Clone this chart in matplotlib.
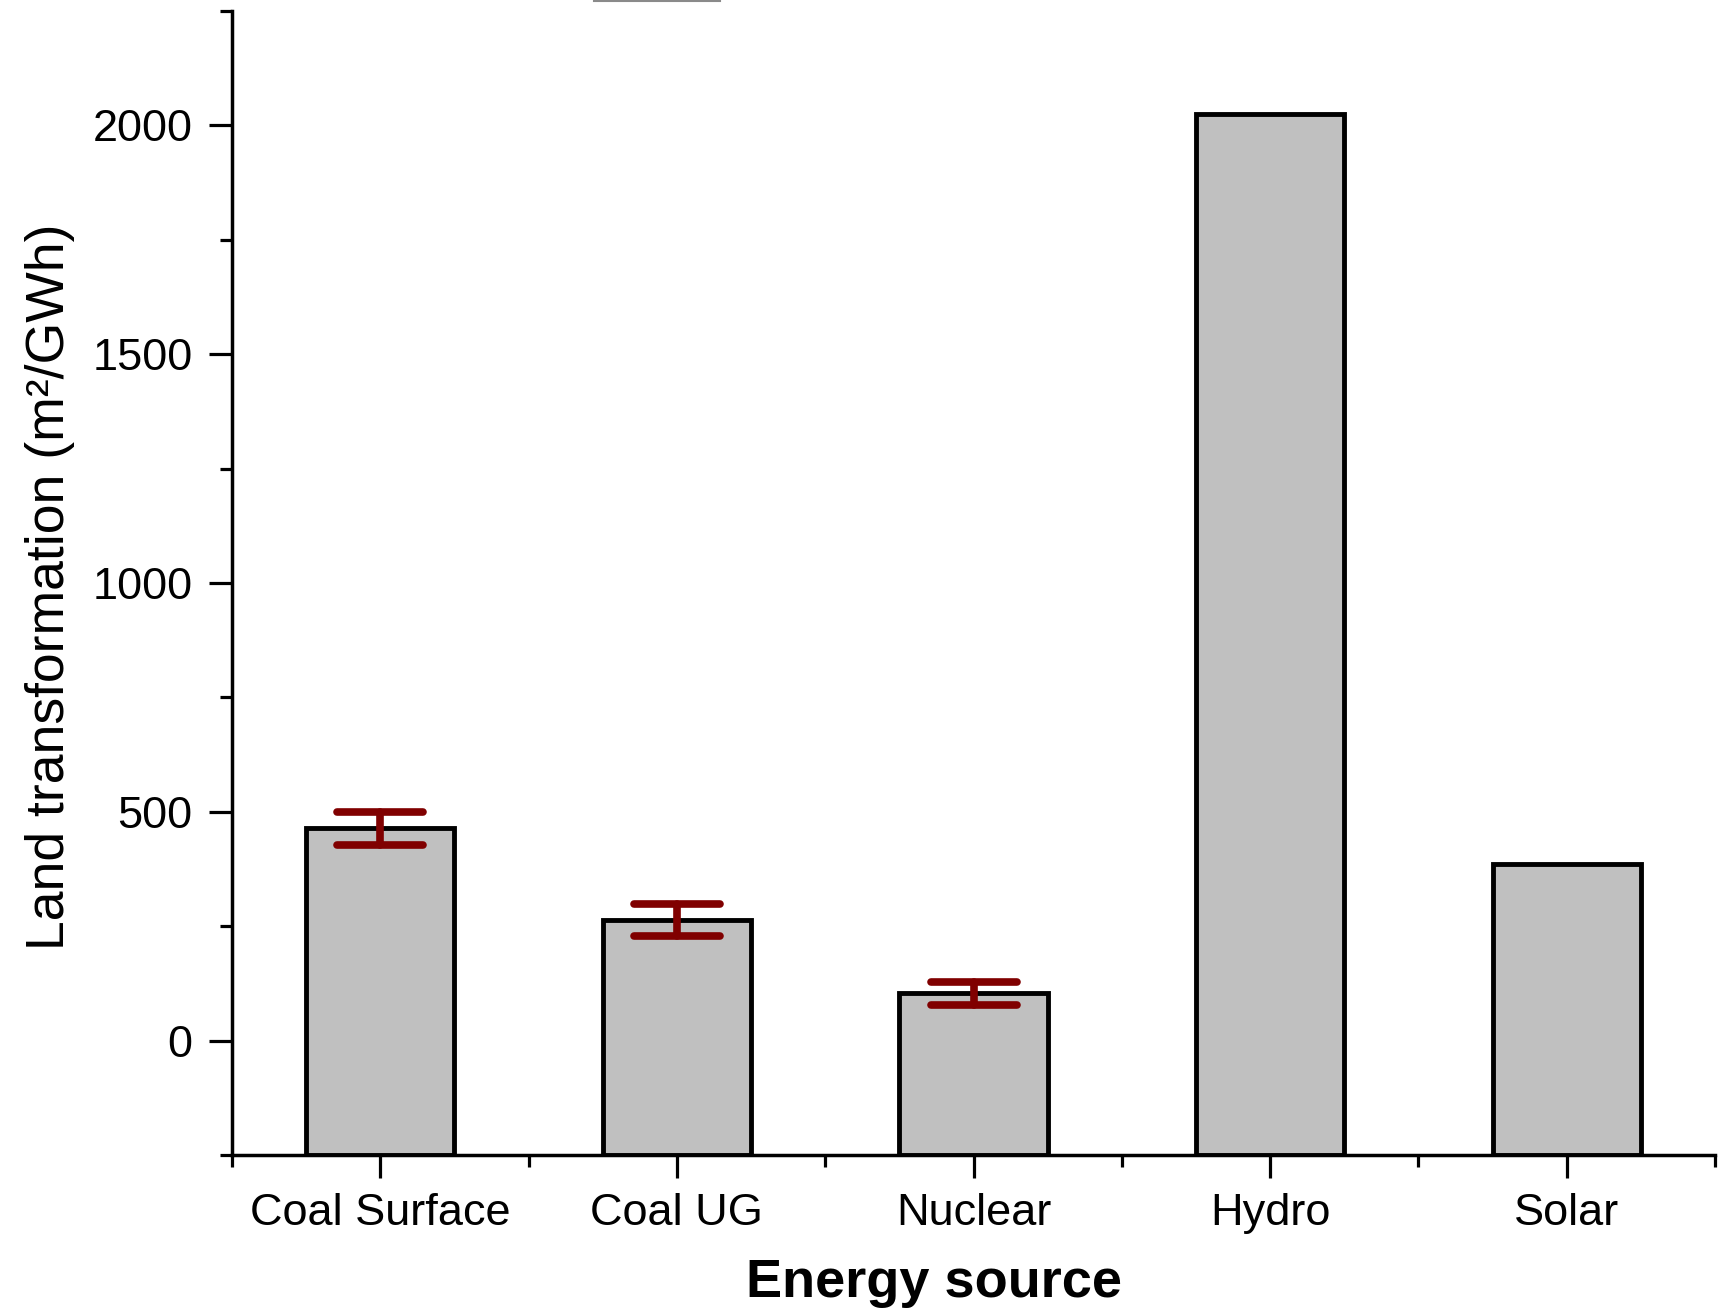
import matplotlib
matplotlib.use("Agg")
import matplotlib.pyplot as plt
from matplotlib.lines import Line2D
from matplotlib.markers import MarkerStyle
from matplotlib.ticker import MultipleLocator, FixedLocator

plt.rcParams["font.family"] = ["Liberation Sans", "DejaVu Sans"]

# data
sources = ["Coal Surface", "Coal UG", "Nuclear", "Hydro", "Solar"]
land_use = [464, 264, 103, 2025, 385]
errors = [36, 35, 25, 0, 0]

y_min, y_max = -250, 2250
positions = list(range(1, len(sources) + 1))

fig = plt.figure(figsize=(17.2, 13.11), dpi=100)
ax = fig.add_axes([0.1349, 0.1190, 0.8622, 0.8726])

# Origin-style bars: drawn up from the bottom of the axis
ax.bar(positions, [v - y_min for v in land_use], bottom=y_min, width=0.5,
       color="#c0c0c0", edgecolor="black", linewidth=3.5, zorder=2)

# error bars only where there is spread
err_x = [p for p, e in zip(positions, errors) if e > 0]
err_y = [v for v, e in zip(land_use, errors) if e > 0]
err_e = [e for e in errors if e > 0]
eb = ax.errorbar(err_x, err_y, yerr=err_e, fmt="none", ecolor="#800000",
                 elinewidth=5.5, capsize=31, capthick=5.5, zorder=3)
for cap in eb[1]:
    cap.set_marker(MarkerStyle("_", capstyle="round"))
for coll in eb[2]:
    coll.set_capstyle("round")

ax.set_xlim(0.5, 5.5)
ax.set_ylim(y_min, y_max)
ax.set_xticks(positions)
ax.set_xticklabels(sources)
ax.xaxis.set_minor_locator(FixedLocator([p - 0.5 for p in positions] + [positions[-1] + 0.5]))
ax.yaxis.set_major_locator(MultipleLocator(500))
ax.yaxis.set_minor_locator(MultipleLocator(250))

for side in ["top", "right"]:
    ax.spines[side].set_visible(False)
for side in ["left", "bottom"]:
    ax.spines[side].set_linewidth(2.5)

ax.tick_params(axis="both", which="major", direction="out", length=16.5,
               width=2.3, labelsize=32.5)
ax.tick_params(axis="both", which="minor", direction="out", length=8.5, width=2.3)
ax.tick_params(axis="x", which="major", pad=11)
ax.tick_params(axis="y", which="major", pad=12)

ax.set_ylabel("Land transformation (m\u00b2/GWh)", fontsize=38.5)
ax.set_xlabel("Energy source", fontsize=39, fontweight="bold")
ax.yaxis.set_label_coords(-0.106, 0.497)
ax.xaxis.set_label_coords(0.4735, -0.09)
ax.xaxis.label.set_va("top")

# stray grey stroke at the top edge of the source image
fig.add_artist(Line2D([594 / 1720, 720 / 1720], [1 - 1 / 1311] * 2,
                      color="#8a8a8a", linewidth=1.5))

fig.savefig("out.png", dpi=100)
plt.close(fig)
